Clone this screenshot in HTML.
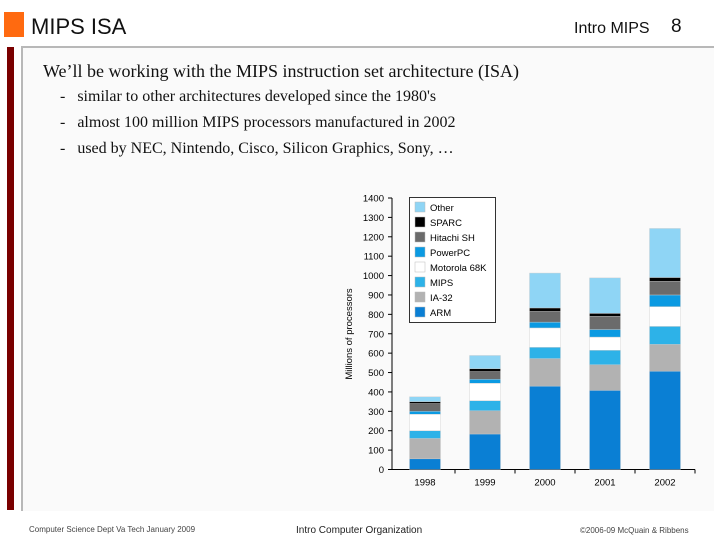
<!DOCTYPE html>
<html><head><meta charset="utf-8"><style>
body{margin:0;width:720px;height:540px;background:#fff;position:relative;overflow:hidden;font-family:"Liberation Sans",sans-serif}
.a{position:absolute;white-space:nowrap}
.s{font-family:"Liberation Serif",serif;color:#111}
</style></head><body>
<div class="a" style="left:4px;top:12px;width:20px;height:25px;background:#ff6a10"></div>
<div class="a" style="left:31px;top:14px;font-size:22px;color:#111">MIPS ISA</div>
<div class="a" style="left:574px;top:20px;font-size:16px;color:#111">Intro MIPS</div>
<div class="a" style="left:671px;top:16px;font-size:19px;color:#111">8</div>
<div class="a" style="left:7px;top:47px;width:7px;height:463px;background:#7a0000"></div>
<div class="a" style="left:21px;top:46px;width:691px;height:463px;background:#fafafa;border-top:2px solid #b8b8b8;border-left:2px solid #b8b8b8"></div>
<div class="a s" style="left:43px;top:61px;font-size:18px">We’ll be working with the MIPS instruction set architecture (ISA)</div>
<div class="a s" style="left:60px;top:88px;font-size:16px">-&nbsp;&nbsp;&nbsp;similar to other architectures developed since the 1980's</div>
<div class="a s" style="left:60px;top:114px;font-size:16px">-&nbsp;&nbsp;&nbsp;almost 100 million MIPS processors manufactured in 2002</div>
<div class="a s" style="left:60px;top:140px;font-size:16px">-&nbsp;&nbsp;&nbsp;used by NEC, Nintendo, Cisco, Silicon Graphics, Sony, …</div>
<svg class="a" style="left:0;top:0" width="720" height="540" id="ch"></svg>
<div class="a" style="left:29px;top:525px;font-size:8px;color:#444">Computer Science Dept Va Tech January 2009</div>
<div class="a" style="left:296px;top:525px;font-size:10px;color:#222">Intro Computer Organization</div>
<div class="a" style="left:580px;top:526px;font-size:8px;color:#444">©2006-09 McQuain &amp; Ribbens</div>
<script>
const years=["1998","1999","2000","2001","2002"];
const seriesNames=["ARM","IA-32","MIPS","Motorola 68K","PowerPC","Hitachi SH","SPARC","Other"];
const ARM=[55,183,430,408,507];
const IA32=[105,120,142,132,138];
const MIPS=[40,52,58,75,93];
const M68K=[85,90,100,68,102];
const PPC=[15,20,30,39,60];
const HSH=[40,40,55,68,70];
const SPARC=[10,15,18,15,20];
const OTHER=[25,68,180,183,253];
const yTicks=[0,100,200,300,400,500,600,700,800,900,1000,1100,1200,1300,1400];
const series=[ARM,IA32,MIPS,M68K,PPC,HSH,SPARC,OTHER];
const colors=["#0a7fd4","#b2b2b2","#2db2e8","#ffffff","#0b9ae2","#6b6b6b","#000000","#8fd5f5"];
const svg=document.getElementById('ch');const NS="http://www.w3.org/2000/svg";
const y0=469.5,yTop=198,x0=392,x1=695;
const y=v=>y0-(v/1400)*(y0-yTop);
const xc=i=>425+i*60;
function mk(t,a,p){const e=document.createElementNS(NS,t);for(const k in a)e.setAttribute(k,a[k]);(p||svg).appendChild(e);return e;}
mk('line',{x1:x0,y1:yTop,x2:x0,y2:y0,stroke:'#000','stroke-width':1});
mk('line',{x1:x0,y1:y0,x2:x1,y2:y0,stroke:'#000','stroke-width':1});
yTicks.forEach(v=>{
const l=mk('line',{x1:x0-4,y1:y(v),x2:x0,y2:y(v),stroke:'#000'});


const t=mk('text',{x:x0-8,y:y(v)+3.5,'font-size':9.5,'text-anchor':'end','font-family':'Liberation Sans, sans-serif'});t.textContent=v;


});
const yt=mk('text',{x:352,y:334,'font-size':9.5,'text-anchor':'middle',transform:'rotate(-90 352 334)','font-family':'Liberation Sans, sans-serif'});yt.textContent='Millions of processors';


years.forEach((yr,i)=>{
let acc=0;
series.forEach((s,k)=>{
const r=mk('rect',{x:xc(i)-15.5,y:y(acc+s[i]),width:31,height:y(acc)-y(acc+s[i]),fill:colors[k],stroke:'#ccc','stroke-width':0.4});


acc+=s[i];});
const tk=mk('line',{x1:xc(i)+30,y1:y0,x2:xc(i)+30,y2:y0+4,stroke:'#000'});


const t=mk('text',{x:xc(i),y:y0+16,'font-size':9.5,'text-anchor':'middle','font-family':'Liberation Sans, sans-serif'});t.textContent=yr;


});
const lb=mk('rect',{x:409.5,y:197.5,width:86,height:125,fill:'#fff',stroke:'#000','stroke-width':0.8});


for(let k=7;k>=0;k--){const j=7-k;const yy=202+j*15;
const sw=mk('rect',{x:415,y:yy,width:10,height:10,fill:colors[k],stroke:'#bbb','stroke-width':0.5});


const t=mk('text',{x:430,y:yy+9,'font-size':9.5,'font-family':'Liberation Sans, sans-serif'});t.textContent=seriesNames[k];

}
</script>
</body></html>
